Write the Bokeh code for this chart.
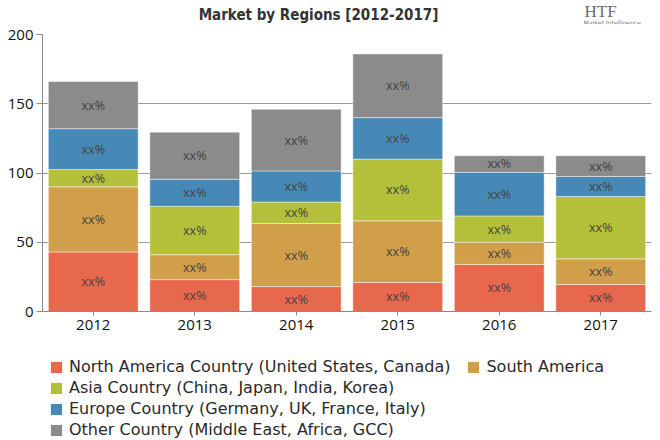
import numpy as np
from bokeh.plotting import figure
from bokeh.layouts import column
from bokeh.models import (ColumnDataSource, Legend, LegendItem,
                          FixedTicker, FactorRange, Range1d)
from bokeh.core.properties import value
from bokeh.embed import file_html
from bokeh.resources import INLINE

title_text = "Market by Regions [2012-2017]"
years = ["2012", "2013", "2014", "2015", "2016", "2017"]
north_america = [43, 23, 18, 21, 34, 19.5]
south_america = [47, 18, 45.5, 44.5, 16, 18.5]
asia = [12.5, 35, 15.5, 44.5, 19, 45]
europe = [29.5, 19.5, 22.5, 30, 31.5, 14.5]
other = [34, 34, 44.5, 46, 12, 15]

series_names = ["north_america", "south_america", "asia", "europe", "other"]
series_labels = ["North America Country (United States, Canada)",
                 "South America",
                 "Asia Country (China, Japan, India, Korea)",
                 "Europe Country (Germany, UK, France, Italy)",
                 "Other Country (Middle East, Africa, GCC)"]
colors = ["#E8684E", "#D19F49", "#B4C03A", "#4689B6", "#8B8B8B"]
y_ticks = [0, 50, 100, 150, 200]

# ---------- header (title + logo text) ----------
hd = figure(width=660, height=24, x_range=Range1d(42, 651), y_range=Range1d(0, 24),
            output_backend="svg", toolbar_location=None,
            min_border_left=42, min_border_right=9, min_border_top=0, min_border_bottom=0)
hd.outline_line_color = None
hd.axis.visible = False
hd.grid.visible = False
hd.text(x=[318], y=[10], text=[title_text], text_align="center", text_baseline="middle",
        text_font=value("DejaVu Sans Condensed"), text_font_style="bold",
        text_font_size="15px", text_color="#333333")
hd.text(x=[584], y=[13.5], text=["HTF"], text_align="left", text_baseline="middle",
        text_font=value("Liberation Serif"), text_font_size="17px", text_color="#6a6a6a")
hd.text(x=[583], y=[2.5], text=["Market Intelligence"], text_align="left", text_baseline="middle",
        text_font=value("DejaVu Sans"), text_font_size="6px", text_color="#777777")

# ---------- main chart ----------
data = dict(years=years, north_america=north_america, south_america=south_america,
            asia=asia, europe=europe, other=other)
source = ColumnDataSource(data)

p = figure(x_range=FactorRange(*years), y_range=(0, 200), width=660, height=316,
           output_backend="svg", toolbar_location=None,
           min_border_left=42, min_border_right=9, min_border_top=10, min_border_bottom=29)
p.outline_line_color = None

renderers = p.vbar_stack(series_names, x="years", width=0.885, source=source,
                         color=colors, line_color="white", line_alpha=0.45, line_width=1)

vals = np.array([north_america, south_america, asia, europe, other], dtype=float)
cum = np.cumsum(vals, axis=0)
mids = cum - vals / 2
lx, ly = [], []
for i in range(vals.shape[0]):
    for j, yr in enumerate(years):
        lx.append(yr)
        ly.append(mids[i, j])
lsrc = ColumnDataSource(dict(x=lx, y=ly, t=["xx%"] * len(lx)))
p.text(x="x", y="y", text="t", source=lsrc, text_align="center", text_baseline="middle",
       text_font=value("Open Sans"), text_font_size="12.5px", text_color="#444444")

p.xgrid.grid_line_color = None
p.ygrid.grid_line_color = "#9a9a9a"
p.ygrid.ticker = FixedTicker(ticks=y_ticks)
p.yaxis.ticker = FixedTicker(ticks=y_ticks)
p.yaxis.minor_tick_line_color = None
p.yaxis.major_tick_in = 0
p.yaxis.major_tick_out = 6
p.yaxis.axis_line_color = "#8a8a8a"
p.yaxis.major_tick_line_color = "#8a8a8a"
p.yaxis.major_label_text_font = "Open Sans"
p.yaxis.major_label_text_font_size = "15px"
p.yaxis.major_label_text_color = "#111111"
p.yaxis.major_label_standoff = 3
p.xaxis.axis_line_color = "#8a8a8a"
p.xaxis.major_tick_line_color = "#8a8a8a"
p.xaxis.major_tick_in = 0
p.xaxis.major_tick_out = 4
p.xaxis.major_label_text_font = "Open Sans"
p.xaxis.major_label_text_font_size = "15px"
p.xaxis.major_label_text_color = "#111111"
p.xaxis.major_label_standoff = 4

# ---------- legend ----------
lf = figure(width=660, height=100, x_range=Range1d(0, 1), y_range=Range1d(0, 1),
            output_backend="svg", toolbar_location=None,
            min_border_left=42, min_border_right=9, min_border_top=0, min_border_bottom=0)
lf.outline_line_color = None
lf.axis.visible = False
lf.grid.visible = False
legend_rs = [lf.vbar(x=[0.5], top=[0], bottom=[0], width=0, fill_color=c, line_alpha=0)
             for c in colors]
items = [LegendItem(label=series_labels[i], renderers=[legend_rs[i]]) for i in range(5)]
common = dict(label_text_font="DejaVu Sans", label_text_font_size="16px",
              label_text_color="#2a2a2a", glyph_width=14, glyph_height=14,
              label_standoff=6, spacing=16, padding=0, margin=0, border_line_color=None,
              background_fill_alpha=0, label_height=14, orientation="horizontal")
rows = [items[0:2], items[2:3], items[3:4], items[4:5]]
row_y = [64, 43, 22, 1]
for r, its in enumerate(rows):
    lg = Legend(items=its, location=(7, row_y[r]), **common)
    lf.add_layout(lg, "center")

layout = column(hd, p, lf, spacing=0)
open("out.html", "w").write(file_html(layout, INLINE))
